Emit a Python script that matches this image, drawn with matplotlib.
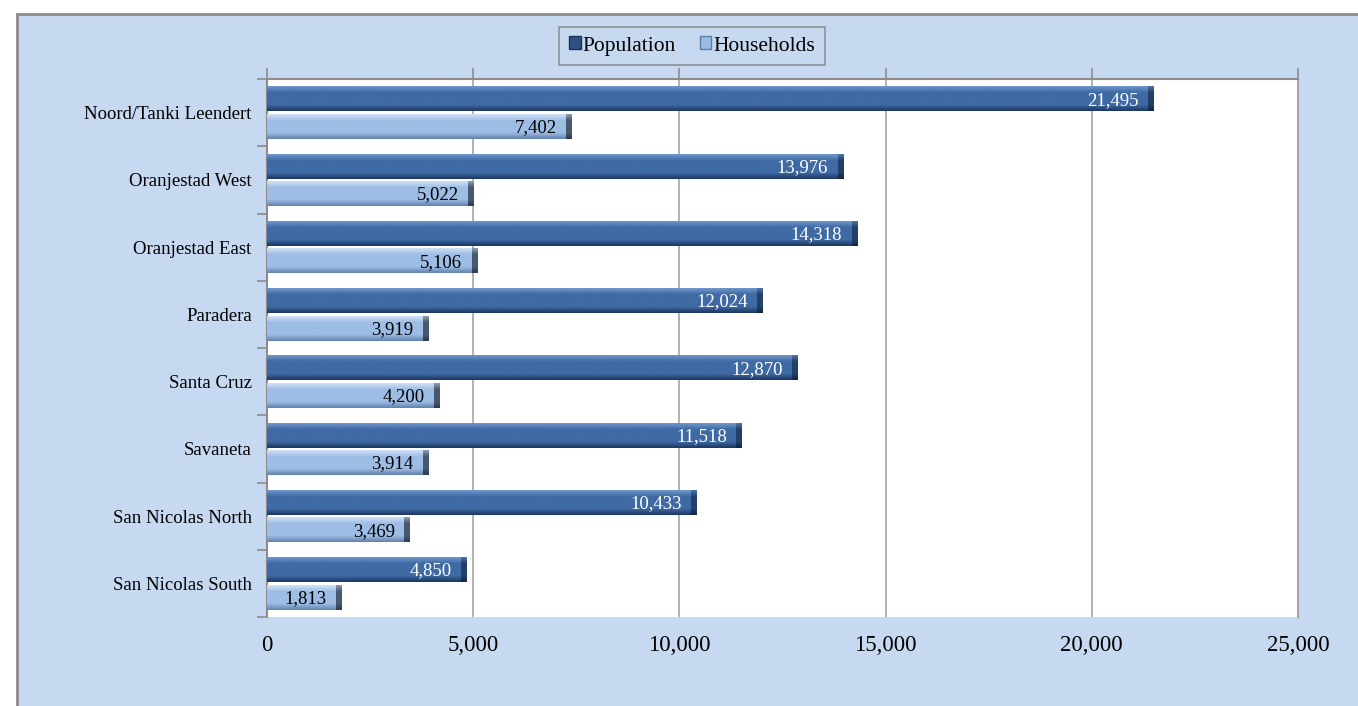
import numpy as np
import matplotlib.pyplot as plt
from matplotlib.patches import Patch, Rectangle

districts = ["Noord/Tanki Leendert", "Oranjestad West", "Oranjestad East", "Paradera",
             "Santa Cruz", "Savaneta", "San Nicolas North", "San Nicolas South"]
population = [21495, 13976, 14318, 12024, 12870, 11518, 10433, 4850]
households = [7402, 5022, 5106, 3919, 4200, 3914, 3469, 1813]
xticks = [0, 5000, 10000, 15000, 20000, 25000]

plt.rcParams['font.family'] = ['Liberation Serif', 'DejaVu Serif']

fig = plt.figure(figsize=(13.58, 7.06), dpi=100)
fig.patch.set_facecolor('white')

# light blue chart area with grey border on the left/top
bg = Rectangle((17 / 1358, -0.01), 1.0, 1 - 14 / 706 + 0.01, transform=fig.transFigure,
               facecolor='#C6D9F1', edgecolor='#8C8C8C', linewidth=2, zorder=-5)
fig.patches.append(bg)

ax = fig.add_axes([267 / 1358, 1 - 617 / 706, (1298 - 267) / 1358, (617 - 79) / 706])
ax.set_facecolor('white')
ax.set_zorder(2)


def grad(top, mid, bot, n=40):
    top, mid, bot = [np.array(plt.matplotlib.colors.to_rgb(c)) for c in (top, mid, bot)]
    t = np.linspace(0, 1, n)
    rows = []
    for v in t:
        if v < 0.25:
            c = top + (mid - top) * (v / 0.25)
        elif v < 0.75:
            c = mid
        else:
            c = mid + (bot - mid) * ((v - 0.75) / 0.25)
        rows.append(c)
    return np.array(rows).reshape(n, 1, 3)


pop_grad = grad('#6E96CC', '#3F6AA3', '#1C3862')
pop_end = grad('#4F74A6', '#22406A', '#132640')
hh_grad = grad('#D0E1F6', '#9EBDE5', '#6283AD')
hh_end = grad('#8C9CB2', '#48586E', '#2E3B4D')

h = 0.37
off = 0.205
ypos = np.arange(len(districts))
end_w = 140

for i, y in enumerate(ypos):
    for val, dy, g, ge, col in [(population[i], -off, pop_grad, pop_end, 'white'),
                                (households[i], off, hh_grad, hh_end, 'black')]:
        yc = y + dy
        ax.imshow(g, extent=[0, val - end_w, yc + h / 2, yc - h / 2], aspect='auto',
                  interpolation='bilinear', zorder=3)
        ax.imshow(ge, extent=[val - end_w, val, yc + h / 2, yc - h / 2], aspect='auto',
                  interpolation='bilinear', zorder=3)
        ax.annotate(f"{val:,}", (val, yc), xytext=(-11, -1), textcoords='offset points',
                    ha='right', va='center', color=col, fontsize=13.5, zorder=4)

ax.set_xlim(0, 25000)
ax.set_ylim(len(districts) - 0.5, -0.5)
ax.set_xticks(xticks)
ax.set_xticklabels([f"{v:,}" for v in xticks], fontsize=16.5)
ax.xaxis.grid(True, color='#A6A6A6', linewidth=1.2, zorder=1)
ax.set_axisbelow(True)
ax.tick_params(axis='x', top=True, bottom=False, labeltop=False, labelbottom=True,
               direction='out', length=8, color='#8C8C8C', width=1.2, pad=5)

ax.set_yticks(ypos)
ax.set_yticklabels(districts, fontsize=13.5)
ax.set_yticks(np.arange(len(districts) + 1) - 0.5, minor=True)
ax.tick_params(axis='y', which='major', length=0, pad=11)
ax.tick_params(axis='y', which='minor', length=7, color='#8C8C8C', width=1.2, direction='out')

for s in ['top', 'left', 'right']:
    ax.spines[s].set_color('#8C8C8C')
    ax.spines[s].set_linewidth(1.5)
ax.spines['right'].set_color('#A6A6A6')
ax.spines['bottom'].set_visible(False)

handles = [Patch(facecolor='#2E5182', edgecolor='#1A3355', label='Population'),
           Patch(facecolor='#9CBBE2', edgecolor='#5E7EA6', label='Households')]
leg = fig.legend(handles=handles, loc='center', bbox_to_anchor=(692 / 1358, 1 - 46 / 706),
                 ncol=2, fontsize=15.5, frameon=True, fancybox=False, handlelength=0.55,
                 handleheight=0.55, handletextpad=0.1, columnspacing=1.1,
                 borderpad=0.45, borderaxespad=0)
leg.get_frame().set_facecolor('#C6D9F1')
leg.get_frame().set_edgecolor('#808080')
leg.get_frame().set_linewidth(1.2)

fig.savefig('out.png', dpi=100, facecolor=fig.get_facecolor())
